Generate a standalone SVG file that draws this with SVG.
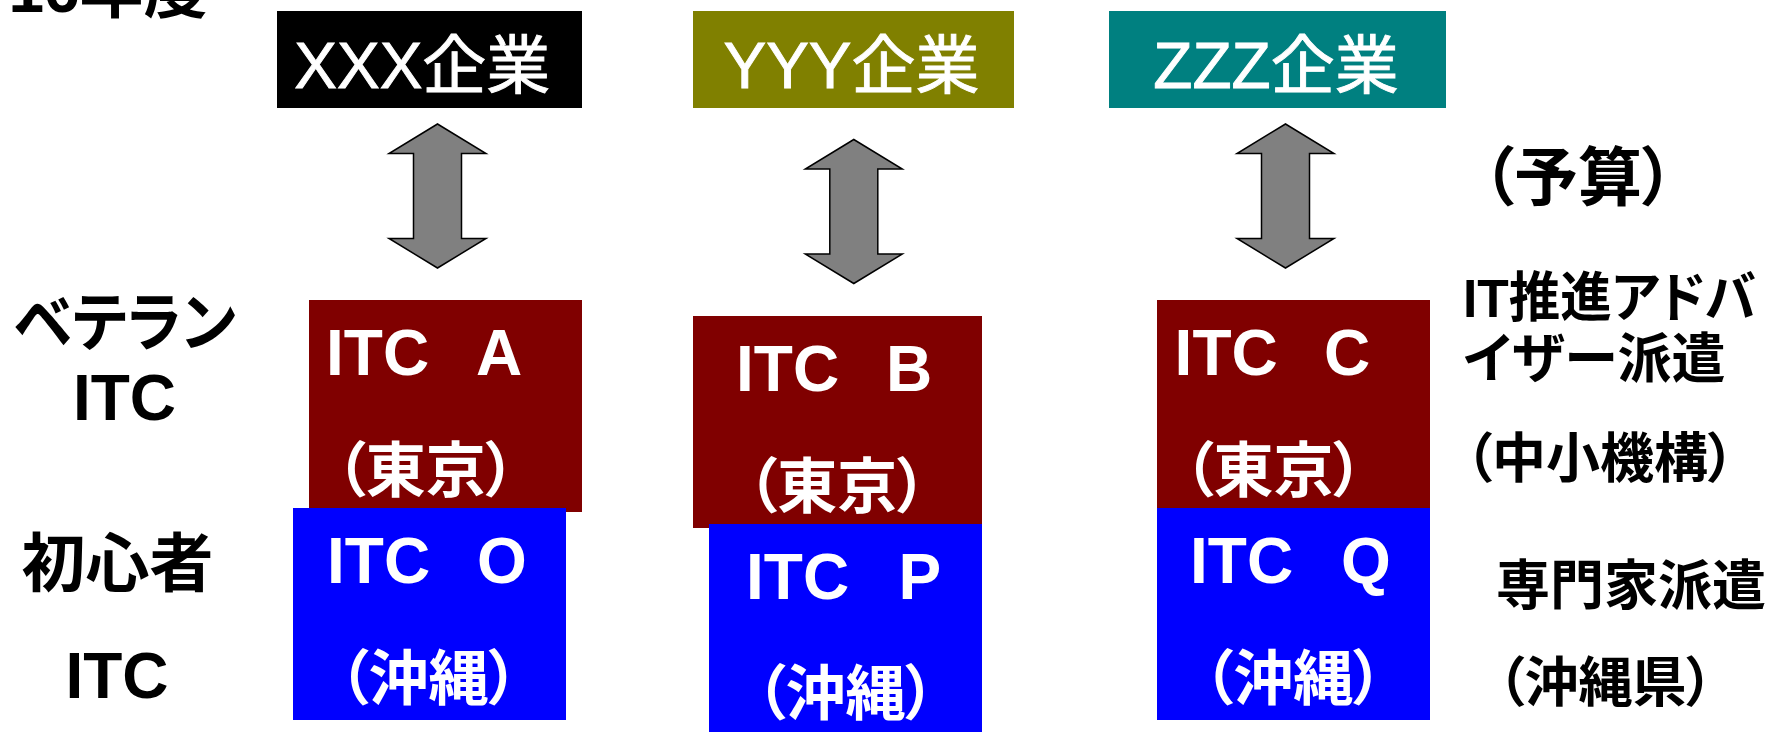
<svg xmlns="http://www.w3.org/2000/svg" width="1766" height="732" viewBox="0 0 1766 732">
<style>
text { font-family: "Liberation Sans", "Noto Sans CJK JP", sans-serif; font-feature-settings: "palt" 1; }
.lbl { fill: #000; font-weight: bold; font-size: 64px; }
.side { fill: #000; font-weight: bold; font-size: 54px; }
.co { fill: #fff; font-size: 64px; text-anchor: middle; stroke: #fff; stroke-width: 0.9; }
.itc { fill: #fff; font-weight: bold; font-size: 64px; }
.loc { fill: #fff; font-weight: bold; font-size: 60px; text-anchor: middle; }
.mid { text-anchor: middle; }
.veteran { fill: #800000; }
.novice { fill: #0000ff; }
.arrow { fill: #808080; stroke: #000; stroke-width: 1.5; stroke-linejoin: miter; }
</style>
<defs>
<path id="dbl" d="M0,0 L48.5,29.5 L24,29.5 L24,114.5 L48.5,114.5 L0,144 L-48.5,114.5 L-24,114.5 L-24,29.5 L-48.5,29.5 Z"/>
</defs>
<rect width="1766" height="732" fill="#fff"/>

<g id="year-label"><text class="lbl mid" x="108" y="12">16年度</text></g>
<g id="label-veteran">
<text class="lbl mid" x="125" y="345" textLength="222" lengthAdjust="spacingAndGlyphs">ベテラン</text>
<text class="lbl mid" x="124.5" y="420">ITC</text>
</g>
<g id="label-novice">
<text class="lbl mid" x="117.5" y="586">初心者</text>
<text class="lbl mid" x="117" y="698">ITC</text>
</g>

<g id="company-xxx">
<rect x="277" y="11" width="305" height="97" fill="#000"/>
<text class="co" x="422.3" y="88">XXX企業</text>
</g>
<g id="company-yyy">
<rect x="693" y="11" width="321" height="97" fill="#808000"/>
<text class="co" x="851.5" y="87.5">YYY企業</text>
</g>
<g id="company-zzz">
<rect x="1109" y="11" width="337" height="97" fill="#008080"/>
<text class="co" x="1276" y="87.5">ZZZ企業</text>
</g>

<g id="connectors">
<use href="#dbl" class="arrow" x="437.5" y="124"/>
<use href="#dbl" class="arrow" x="853.8" y="139.5"/>
<use href="#dbl" class="arrow" x="1285.5" y="124"/>
</g>

<g id="itc-a">
<rect class="veteran" x="309" y="300" width="273" height="212"/>
<text class="itc" x="326" y="375">ITC <tspan x="476">A</tspan></text>
<text class="loc" x="425.7" y="492">（東京）</text>
</g>
<g id="itc-o">
<rect class="novice" x="293" y="508" width="273" height="212"/>
<text class="itc" x="327" y="583">ITC <tspan x="477">O</tspan></text>
<text class="loc" x="428.6" y="700">（沖縄）</text>
</g>

<g id="itc-b">
<rect class="veteran" x="693" y="316" width="289" height="212"/>
<text class="itc" x="736" y="391">ITC <tspan x="886">B</tspan></text>
<text class="loc" x="837.2" y="508">（東京）</text>
</g>
<g id="itc-p">
<rect class="novice" x="709" y="524" width="273" height="208"/>
<text class="itc" x="746" y="599">ITC <tspan x="898.5">P</tspan></text>
<text class="loc" x="845.5" y="715">（沖縄）</text>
</g>

<g id="itc-c">
<rect class="veteran" x="1157" y="300" width="273" height="208"/>
<text class="itc" x="1174.6" y="375">ITC <tspan x="1324">C</tspan></text>
<text class="loc" x="1273.5" y="492">（東京）</text>
</g>
<g id="itc-q">
<rect class="novice" x="1157" y="508" width="273" height="212"/>
<text class="itc" x="1190" y="583">ITC <tspan x="1341">Q</tspan></text>
<text class="loc" x="1293.2" y="700">（沖縄）</text>
</g>

<g id="label-budget"><text class="lbl mid" x="1578" y="200">（予算）</text></g>
<g id="label-advisor">
<text class="side" x="1463" y="317" textLength="293" lengthAdjust="spacingAndGlyphs">IT推進アドバ</text>
<text class="side" x="1463" y="378">イザー派遣</text>
<text class="side mid" x="1600" y="478">（中小機構）</text>
</g>
<g id="label-expert">
<text class="side mid" x="1631" y="605">専門家派遣</text>
<text class="side mid" x="1605.4" y="702">（沖縄県）</text>
</g>
</svg>
